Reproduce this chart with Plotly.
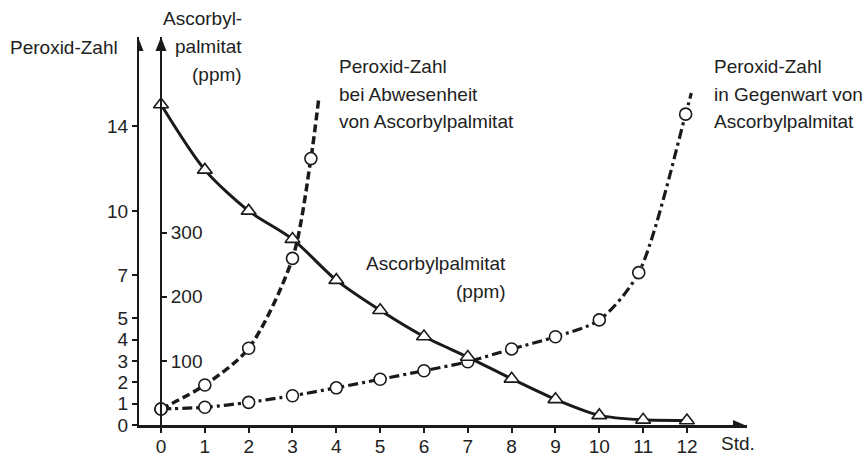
import plotly.graph_objects as go

# Stunden (x) und Messwerte
hours = list(range(13))
ascorbyl_ppm = [500, 398, 334, 290, 226, 179, 138, 106, 72, 40, 15, 8, 7]

absent_hours = [0, 1, 2, 3, 3.42]
absent_pz = [0.75, 1.87, 3.59, 7.8, 12.47]
absent_tail = (3.6, 15.3)  # Kurvenverlauf ueber den letzten Messpunkt hinaus

present_hours = [0, 1, 2, 3, 4, 5, 6, 7, 8, 9, 10, 10.9, 11.97]
present_pz = [0.75, 0.83, 1.06, 1.37, 1.74, 2.14, 2.54, 2.96, 3.56, 4.13, 4.92, 7.13, 14.55]
present_tail = (12.1, 15.54)

pz_ticks = [0, 1, 2, 3, 4, 5, 7, 10, 14]
ppm_ticks = [100, 200, 300]

W, H = 868, 457
M = dict(l=139, r=121, t=37, b=32)
PW = W - M["l"] - M["r"]
PH = H - M["t"] - M["b"]
X_RANGE = [-0.502, 13.37]
PZ_TOP = 18.16
PPM_PER_PZ = 100 / 3

INK = "#1a1a1a"
TXT = "#222222"
FONT = "Liberation Sans, Arial, sans-serif"
FS = 19


def fx(xp):
    return (xp - M["l"]) / PW


def fy(yp):
    return (H - M["b"] - yp) / PH


fig = go.Figure()

circle = dict(symbol="circle", size=12, color="white", line=dict(color=INK, width=1.6))

# Kurvenzuege (mit Verlaengerung ueber den letzten Punkt)
fig.add_trace(go.Scatter(
    x=present_hours + [present_tail[0]], y=present_pz + [present_tail[1]], mode="lines",
    line=dict(color=INK, width=3.2, dash="10px,4px,3px,4px", shape="spline", smoothing=0.8),
    cliponaxis=False, showlegend=False, hoverinfo="skip",
))
fig.add_trace(go.Scatter(
    x=absent_hours + [absent_tail[0]], y=absent_pz + [absent_tail[1]], mode="lines",
    line=dict(color=INK, width=3.5, dash="8px,4px", shape="spline", smoothing=0.8),
    cliponaxis=False, showlegend=False, hoverinfo="skip",
))

# Messpunkte der Peroxid-Zahl
fig.add_trace(go.Scatter(x=present_hours, y=present_pz, mode="markers", marker=circle,
                         cliponaxis=False, showlegend=False))
fig.add_trace(go.Scatter(x=absent_hours, y=absent_pz, mode="markers", marker=circle,
                         cliponaxis=False, showlegend=False))

# Ascorbylpalmitat-Gehalt (ppm), zweite Achse
fig.add_trace(go.Scatter(
    x=hours, y=ascorbyl_ppm, mode="lines+markers", yaxis="y2",
    line=dict(color=INK, width=3, shape="spline", smoothing=0.8),
    marker=dict(symbol="triangle-up", size=13, color="white", line=dict(color=INK, width=1.6)),
    cliponaxis=False, showlegend=False,
))

axis_common = dict(showgrid=False, zeroline=False, showline=True, linecolor=INK,
                   ticks="outside", tickcolor=INK, tickwidth=2, automargin=False,
                   tickfont=dict(family=FONT, size=FS, color=TXT))

fig.update_layout(
    width=W, height=H, margin=dict(M, autoexpand=False),
    paper_bgcolor="white", plot_bgcolor="white",
    xaxis=dict(range=X_RANGE, tickvals=hours, ticklen=5, linewidth=2.5,
               ticklabelstandoff=-3, **axis_common),
    yaxis=dict(range=[0, PZ_TOP], tickvals=pz_ticks, ticklen=5, linewidth=2, **axis_common),
    yaxis2=dict(range=[0, PZ_TOP * PPM_PER_PZ], tickvals=ppm_ticks, ticklen=5, linewidth=2,
                overlaying="y", anchor="free", position=fx(161), side="right", **axis_common),
)

# Pfeilspitzen der Achsen
arrow = dict(type="path", xsizemode="pixel", ysizemode="pixel", fillcolor=INK,
             line=dict(width=0), layer="above")
fig.add_shape(xref="x", yref="y", xanchor=X_RANGE[1], yanchor=0,
              path="M0,-1 L-14,5 L-14,-7 Z", **arrow)
fig.add_shape(xref="x", yref="y", xanchor=X_RANGE[0], yanchor=PZ_TOP,
              path="M-1,0 L-6.5,-14 L4.5,-14 Z", **arrow)
fig.add_shape(xref="x", yref="y", xanchor=0, yanchor=PZ_TOP,
              path="M0,0 L-5.5,-14 L5.5,-14 Z", **arrow)


def label(lines, xp, centers, align):
    for text, yc in zip(lines, centers):
        fig.add_annotation(
            x=fx(xp), y=fy(yc), xref="paper", yref="paper", text=text,
            showarrow=False, xanchor=align, yanchor="middle",
            font=dict(family=FONT, size=FS, color=TXT),
        )


label(["Peroxid-Zahl"], 120, [47], "right")
label(["Ascorbyl-", "palmitat", "(ppm)"], 244, [18.5, 46, 74], "right")
label(["Peroxid-Zahl", "bei Abwesenheit", "von Ascorbylpalmitat"], 337, [67, 94.5, 121], "left")
label(["Peroxid-Zahl", "in Gegenwart von", "Ascorbylpalmitat"], 712, [67, 94.5, 121], "left")
label(["Ascorbylpalmitat", "(ppm)"], 508, [263.5, 291], "right")
label(["Std."], 719, [443], "left")

fig.write_html("out.html")
